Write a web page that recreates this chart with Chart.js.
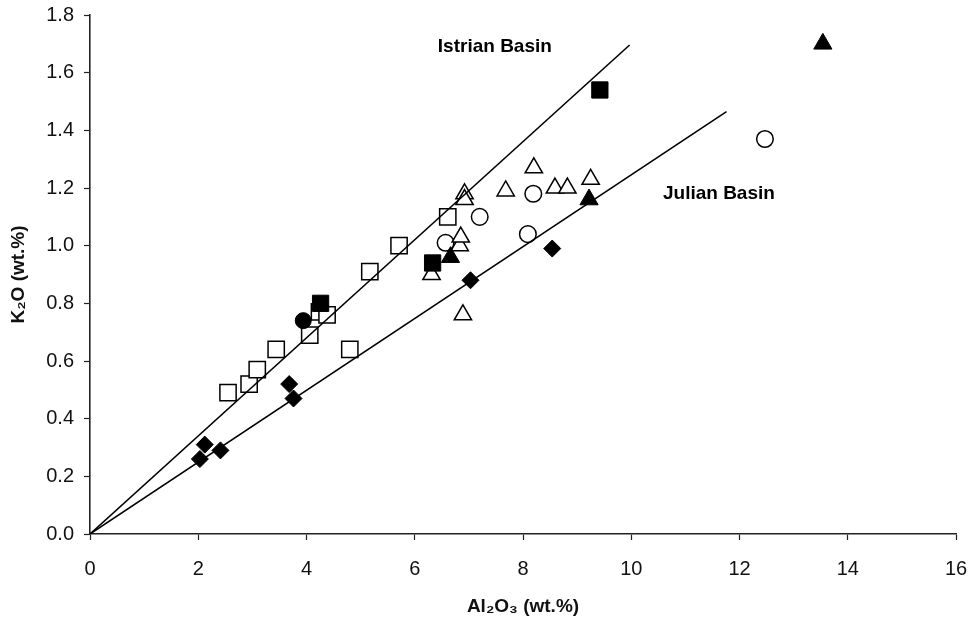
<!DOCTYPE html>
<html>
<head>
<meta charset="utf-8">
<script src="https://cdn.jsdelivr.net/npm/chart.js@4.4.1/dist/chart.umd.min.js"></script>
<style>
  html, body { margin: 0; padding: 0; background: #fff; }
  #wrap { width: 975px; height: 624px; }
</style>
</head>
<body>
<div id="wrap"><canvas id="c" width="975" height="624"></canvas></div>
<script>
// ---- Data ----
const openSquareX = [2.55, 2.94, 3.09, 3.44, 4.06, 4.24, 4.38, 4.80, 5.17, 5.71, 6.61];
const openSquareY = [0.49, 0.52, 0.57, 0.64, 0.69, 0.77, 0.76, 0.64, 0.91, 1.00, 1.10];

const filledSquareX = [4.26, 6.33, 9.42];
const filledSquareY = [0.80, 0.94, 1.54];

const filledCircleX = [3.94];
const filledCircleY = [0.74];

const filledTriangleX = [6.66, 9.22, 13.54];
const filledTriangleY = [0.96, 1.16, 1.70];

const openTriangleX = [6.31, 6.89, 6.83, 6.85, 6.92, 6.92, 7.68, 8.20, 8.59, 8.82, 9.25];
const openTriangleY = [0.90, 0.76, 1.00, 1.03, 1.18, 1.16, 1.19, 1.27, 1.20, 1.20, 1.23];

const openCircleX = [6.57, 7.20, 8.19, 8.09, 12.47];
const openCircleY = [1.01, 1.10, 1.18, 1.04, 1.37];

const diamondX = [2.03, 2.12, 2.41, 3.68, 3.76, 7.03, 8.54];
const diamondY = [0.26, 0.31, 0.29, 0.52, 0.47, 0.88, 0.99];

// Trend lines (from origin to end point)
const istrianLineX = [0, 9.97];
const istrianLineY = [0, 1.696];
const julianLineX = [0, 11.76];
const julianLineY = [0, 1.465];

// Annotations
const lineLabels = ['Istrian Basin', 'Julian Basin'];
const lineLabelX = [7.48, 11.62];
const lineLabelY = [1.69, 1.179];

const xTitle = 'Al\u2082O\u2083 (wt.%)';
const yTitle = 'K\u2082O (wt.%)';
const xMin = 0, xMax = 16, xStep = 2;
const yMin = 0, yMax = 1.8, yStep = 0.2;

// ---- Build ----
const pts = (xs, ys) => xs.map((x, i) => ({ x: x, y: ys[i] }));

const labelPlugin = {
  id: 'lineLabels',
  afterDatasetsDraw(chart) {
    const ctx = chart.ctx;
    const xs = chart.scales.x, ys = chart.scales.y;
    ctx.save();
    ctx.fillStyle = '#000';
    ctx.font = 'bold 19px "Liberation Sans", Arial, sans-serif';
    ctx.textAlign = 'center';
    ctx.textBaseline = 'middle';
    lineLabels.forEach((t, i) => {
      ctx.fillText(t, xs.getPixelForValue(lineLabelX[i]), ys.getPixelForValue(lineLabelY[i]));
    });
    ctx.restore();
  }
};

const font = { family: '"Liberation Sans", Arial, sans-serif', size: 20 };

new Chart(document.getElementById('c'), {
  type: 'scatter',
  data: {
    datasets: [
      { label: 'Istrian', data: pts(istrianLineX, istrianLineY), showLine: true, borderColor: '#000', borderWidth: 1.6, pointRadius: 0, order: 0 },
      { label: 'Julian', data: pts(julianLineX, julianLineY), showLine: true, borderColor: '#000', borderWidth: 1.6, pointRadius: 0, order: 0 },
      { label: 'filled square', data: pts(filledSquareX, filledSquareY), pointStyle: 'rect', pointRadius: 11.5, backgroundColor: '#000', borderColor: '#000', borderWidth: 1, order: 1 },
      { label: 'filled circle', data: pts(filledCircleX, filledCircleY), pointStyle: 'circle', pointRadius: 8, backgroundColor: '#000', borderColor: '#000', borderWidth: 1, order: 1 },
      { label: 'filled triangle', data: pts(filledTriangleX, filledTriangleY), pointStyle: 'triangle', pointRadius: 10.5, backgroundColor: '#000', borderColor: '#000', borderWidth: 1, order: 1 },
      { label: 'diamond', data: pts(diamondX, diamondY), pointStyle: 'rectRot', pointRadius: 8.5, backgroundColor: '#000', borderColor: '#000', borderWidth: 1, order: 1 },
      { label: 'open square', data: pts(openSquareX, openSquareY), pointStyle: 'rect', pointRadius: 11.5, backgroundColor: '#fff', borderColor: '#000', borderWidth: 1.5, order: 2 },
      { label: 'open triangle', data: pts(openTriangleX, openTriangleY), pointStyle: 'triangle', pointRadius: 10, backgroundColor: '#fff', borderColor: '#000', borderWidth: 1.5, order: 2 },
      { label: 'open circle', data: pts(openCircleX, openCircleY), pointStyle: 'circle', pointRadius: 8.3, backgroundColor: '#fff', borderColor: '#000', borderWidth: 1.5, order: 2 }
    ]
  },
  options: {
    responsive: false,
    animation: false,
    devicePixelRatio: 1,
    layout: { padding: { top: 15, right: 19, bottom: 0, left: 0 } },
    plugins: { legend: { display: false }, tooltip: { enabled: false } },
    elements: { point: { hoverRadius: 0 } },
    scales: {
      x: {
        type: 'linear', min: xMin, max: xMax,
        afterFit: (s) => { s.height = 90; s.paddingLeft = 0; s.paddingRight = 0; },
        ticks: { stepSize: xStep, color: '#111', font: font, padding: 17, maxRotation: 0 },
        grid: { drawOnChartArea: false, drawTicks: true, tickLength: 6, tickColor: '#222', tickWidth: 1.2 },
        border: { display: true, color: '#222', width: 1.6 },
        title: { display: true, text: xTitle, color: '#111', font: { family: font.family, size: 19, weight: 'bold' }, padding: { top: 0, bottom: 6 } }
      },
      y: {
        type: 'linear', min: yMin, max: yMax,
        afterFit: (s) => { s.width = 90; s.paddingTop = 0; s.paddingBottom = 0; },
        ticks: { stepSize: yStep, color: '#111', font: font, padding: 10, callback: (v) => v.toFixed(1) },
        grid: { drawOnChartArea: false, drawTicks: true, tickLength: 6, tickColor: '#222', tickWidth: 1.2 },
        border: { display: true, color: '#222', width: 1.6 },
        title: { display: true, text: yTitle, color: '#111', font: { family: font.family, size: 19, weight: 'bold' }, padding: { top: 7, bottom: 0 } }
      }
    }
  },
  plugins: [labelPlugin]
});
</script>
</body>
</html>
